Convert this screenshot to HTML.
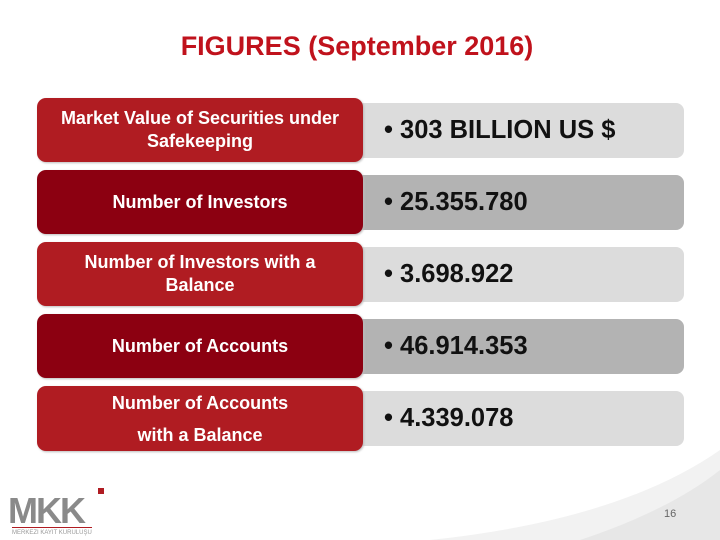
<!DOCTYPE html>
<html><head><meta charset="utf-8"><style>
body{margin:0;width:720px;height:540px;background:#fff;position:relative;overflow:hidden;font-family:"Liberation Sans",sans-serif}
.t{position:absolute;left:0;width:714px;top:31px;text-align:center;color:#c0121c;font-weight:bold;font-size:27px}
.l{position:absolute;left:37px;width:326px;height:64px;border-radius:9px;color:#fff;font-family:"Liberation Sans",sans-serif;font-weight:bold;font-size:18px;display:flex;align-items:center;justify-content:center;text-align:center;line-height:23px;box-shadow:1px 1px 2px #bbb}
.r{position:absolute;left:360px;width:324px;height:55px;border-radius:0 8px 8px 0;font-size:25.5px;font-weight:bold;display:flex;align-items:center;padding-left:24px;box-sizing:border-box;color:#111}
.a{background:#b01c22}.b{background:#8c0011}
.ra{background:#dcdcdc}.rb{background:#b3b3b3}
</style></head><body>
<svg style="position:absolute;left:0;top:0" width="720" height="540">
<path d="M430 540 Q620 520 720 450 L720 540 Z" fill="#f2f2f2"/>
<path d="M580 540 Q670 510 720 470 L720 540 Z" fill="#e2e2e2" opacity="0.7"/>
</svg>
<div class="t">FIGURES (September 2016)</div>
<div class="r ra" style="top:103px">• 303 BILLION US $</div>
<div class="l a" style="top:98px">Market Value of Securities under<br>Safekeeping</div>
<div class="r rb" style="top:175px">• 25.355.780</div>
<div class="l b" style="top:170px">Number of Investors</div>
<div class="r ra" style="top:247px">• 3.698.922</div>
<div class="l a" style="top:242px">Number of Investors with a<br>Balance</div>
<div class="r rb" style="top:319px">• 46.914.353</div>
<div class="l b" style="top:314px">Number of Accounts</div>
<div class="r ra" style="top:391px">• 4.339.078</div>
<div class="l a" style="top:386px;height:65px;line-height:32px">Number of Accounts<br>with a Balance</div>
<div style="position:absolute;left:8px;top:490px;color:#8a8a8a;font-weight:bold;font-size:36px;letter-spacing:-2px;font-family:'Liberation Sans',sans-serif">MKK</div>
<div style="position:absolute;left:98px;top:488px;width:6px;height:6px;background:#b01c22"></div>
<div style="position:absolute;left:12px;top:527px;width:80px;height:1px;background:#b01c22"></div>
<div style="position:absolute;left:12px;top:530px;font-size:6px;color:#999">MERKEZI KAYIT KURULUŞU</div>
<div style="position:absolute;left:664px;top:508px;font-size:11px;color:#666">16</div>
</body></html>
